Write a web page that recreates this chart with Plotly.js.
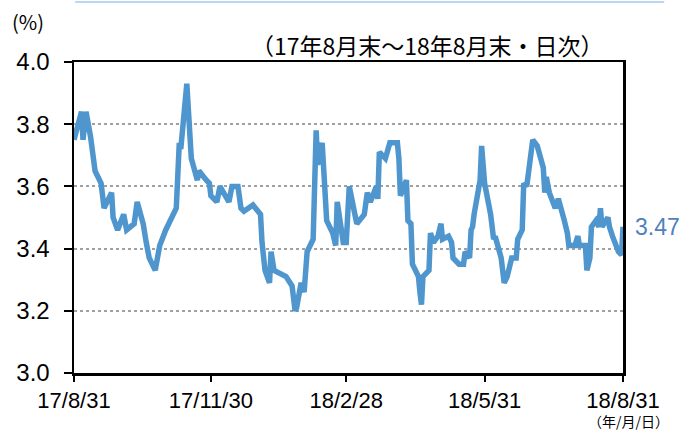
<!DOCTYPE html>
<html>
<head>
<meta charset="utf-8">
<script src="https://cdn.plot.ly/plotly-3.0.1.min.js"></script>
<style>
html,body{margin:0;padding:0;background:#fff;}
#chart{width:682px;height:432px;}
</style>
</head>
<body>
<div id="chart"></div>
<script>
const dates = [
"2017-08-31","2017-09-05","2017-09-06","2017-09-08","2017-09-11","2017-09-14","2017-09-18","2017-09-20","2017-09-25","2017-09-26",
"2017-09-29","2017-10-03","2017-10-05","2017-10-10","2017-10-12","2017-10-16","2017-10-18","2017-10-20","2017-10-24","2017-10-27",
"2017-10-31","2017-11-02","2017-11-07","2017-11-09","2017-11-10","2017-11-14","2017-11-16","2017-11-17","2017-11-21","2017-11-22",
"2017-11-27","2017-11-29","2017-11-30","2017-12-04","2017-12-06","2017-12-08","2017-12-12","2017-12-14","2017-12-18","2017-12-20",
"2017-12-22","2017-12-28","2018-01-02","2018-01-03","2018-01-05","2018-01-08","2018-01-09","2018-01-11","2018-01-15","2018-01-19",
"2018-01-23","2018-01-25","2018-01-26","2018-01-29","2018-01-31","2018-02-02","2018-02-06","2018-02-07","2018-02-08","2018-02-09",
"2018-02-12","2018-02-15","2018-02-19","2018-02-21","2018-02-22","2018-02-26","2018-02-28","2018-03-02","2018-03-07","2018-03-12",
"2018-03-14","2018-03-16","2018-03-20","2018-03-21","2018-03-22","2018-03-26","2018-03-29","2018-04-03","2018-04-04","2018-04-05",
"2018-04-09","2018-04-10","2018-04-12","2018-04-13","2018-04-17","2018-04-18","2018-04-19","2018-04-20","2018-04-24","2018-04-25",
"2018-04-27","2018-04-30","2018-05-02","2018-05-03","2018-05-07","2018-05-09","2018-05-10","2018-05-14","2018-05-17","2018-05-18",
"2018-05-21","2018-05-22","2018-05-23","2018-05-24","2018-05-28","2018-05-29","2018-05-31","2018-06-04","2018-06-05","2018-06-06",
"2018-06-07","2018-06-11","2018-06-13","2018-06-15","2018-06-18","2018-06-21","2018-06-22","2018-06-25","2018-06-26","2018-06-28",
"2018-07-02","2018-07-05","2018-07-09","2018-07-10","2018-07-11","2018-07-13","2018-07-17","2018-07-19","2018-07-23","2018-07-25",
"2018-07-26","2018-07-30","2018-08-01","2018-08-02","2018-08-06","2018-08-07","2018-08-09","2018-08-10","2018-08-13","2018-08-15",
"2018-08-16","2018-08-17","2018-08-21","2018-08-22","2018-08-24","2018-08-28","2018-08-30","2018-08-31"
];
const yields = [
3.75,3.84,3.75,3.84,3.76,3.65,3.61,3.53,3.58,3.50,
3.46,3.51,3.46,3.48,3.55,3.48,3.42,3.37,3.33,3.41,
3.46,3.48,3.53,3.74,3.72,3.93,3.74,3.69,3.62,3.65,
3.62,3.61,3.57,3.55,3.60,3.58,3.55,3.60,3.60,3.53,
3.52,3.54,3.51,3.42,3.33,3.29,3.39,3.33,3.32,3.31,
3.28,3.20,3.21,3.29,3.26,3.39,3.43,3.57,3.78,3.67,
3.74,3.49,3.45,3.41,3.55,3.42,3.42,3.60,3.48,3.51,
3.58,3.55,3.60,3.56,3.71,3.69,3.74,3.74,3.69,3.57,
3.62,3.49,3.48,3.35,3.31,3.26,3.22,3.31,3.33,3.45,
3.42,3.44,3.48,3.43,3.44,3.42,3.37,3.35,3.35,3.39,
3.37,3.46,3.47,3.51,3.62,3.73,3.61,3.51,3.48,3.43,
3.44,3.37,3.29,3.31,3.37,3.37,3.43,3.46,3.61,3.60,
3.75,3.73,3.66,3.58,3.63,3.58,3.53,3.56,3.49,3.45,
3.41,3.41,3.44,3.41,3.41,3.33,3.37,3.47,3.49,3.47,
3.53,3.47,3.50,3.47,3.44,3.39,3.38,3.47
];
const tickDates = ["2017-08-31","2017-11-30","2018-02-28","2018-05-31","2018-08-31"];
const tickLabels = ["17/8/31","17/11/30","18/2/28","18/5/31","18/8/31"];
const yTicks = [3.0,3.2,3.4,3.6,3.8,4.0];
const yTickLabels = ["3.0","3.2","3.4","3.6","3.8","4.0"];
const lastLabel = "3.47";

const lineColor = "#4e96cd";
const numFont = "Liberation Sans, Arial, sans-serif";
const cjkFont = "Noto Sans CJK JP, sans-serif";

const trace = {
  x: dates, y: yields, type: "scatter", mode: "lines",
  line: {color: lineColor, width: 5.5, shape: "linear"},
  hoverinfo: "skip"
};

const layout = {
  width: 682, height: 432,
  margin: {l: 74, r: 59, t: 62, b: 59},
  paper_bgcolor: "#ffffff", plot_bgcolor: "#ffffff",
  showlegend: false,
  xaxis: {
    type: "date",
    range: [dates[0], dates[dates.length-1]],
    tickvals: tickDates, ticktext: tickLabels,
    showgrid: false, zeroline: false,
    showline: true, linecolor: "#000", linewidth: 2.5, mirror: true,
    ticks: "outside", ticklen: 6, tickwidth: 2, tickcolor: "#000",
    tickfont: {family: numFont, size: 22, color: "#000"}
  },
  yaxis: {
    range: [3.0, 4.0],
    tickvals: yTicks, ticktext: yTickLabels,
    showgrid: true, gridcolor: "#a0a0a0", gridwidth: 2, griddash: "dot",
    zeroline: false,
    showline: true, linecolor: "#000", linewidth: 2.5, mirror: true,
    ticks: "outside", ticklen: 8, tickwidth: 2, tickcolor: "#000",
    ticklabelstandoff: 9,
    tickfont: {family: numFont, size: 24, color: "#000"}
  },
  shapes: [
    {type: "line", xref: "paper", yref: "paper", x0: 0.002, x1: 1.075, y0: 1.193, y1: 1.193,
     line: {color: "#bdd7ee", width: 2}}
  ],
  annotations: [
    {text: "(%)", xref: "paper", yref: "paper", x: -0.117, y: 1.13, xanchor: "left", yanchor: "middle",
     showarrow: false, font: {family: cjkFont, size: 20, color: "#000"}},
    {text: "（17年8月末～18年8月末・日次）", xref: "paper", yref: "paper", x: 0.644, y: 1.055, xanchor: "center", yanchor: "middle",
     showarrow: false, font: {family: cjkFont, size: 23, color: "#000"}},
    {text: "（年/月/日）", xref: "paper", yref: "paper", x: 1.085, y: -0.19, xanchor: "right", yanchor: "bottom",
     borderpad: 0, showarrow: false, font: {family: cjkFont, size: 14, color: "#000"}},
    {text: lastLabel, x: dates[dates.length-1], y: yields[yields.length-1], xref: "x", yref: "y",
     xanchor: "left", yanchor: "middle", xshift: 10, showarrow: false,
     font: {family: numFont, size: 23, color: "#4f81bd"}}
  ]
};

Plotly.newPlot("chart", [trace], layout, {staticPlot: true, displayModeBar: false});
</script>
</body>
</html>
